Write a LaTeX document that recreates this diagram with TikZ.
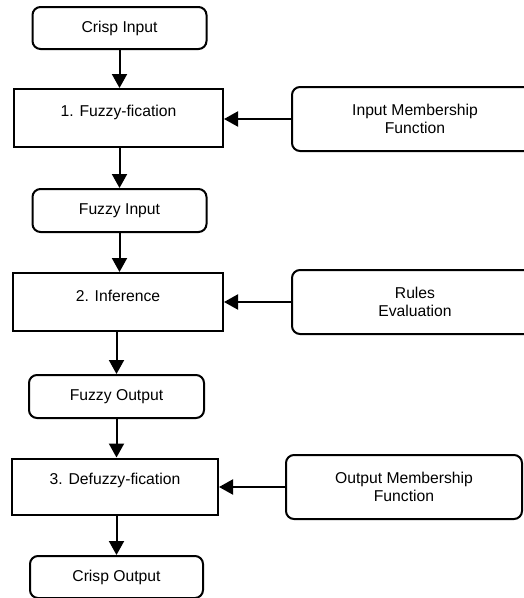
\documentclass[tikz,border=0pt]{standalone}
\usepackage{fontspec}
\setmainfont{Liberation Sans}
\usetikzlibrary{arrows.meta}
\begin{document}
\begin{tikzpicture}[x=1pt,y=-1pt,
  txt/.style={font=\fontsize{15.7}{18}\selectfont},
  base/.style={draw=black,line width=2pt,fill=white,inner sep=0pt,txt,align=center},
  rbox/.style={base,rounded corners=8pt},
  pbox/.style={base},
  arr/.style={line width=2pt,-{Triangle[length=14pt,width=15pt]}}]
\clip (0,0) rectangle (524,598);
\fill[white] (0,0) rectangle (524,598);
% left column
\node[rbox,minimum width=174pt,minimum height=42pt] (ci) at (119.5,28) {Crisp Input};
\node[pbox,minimum width=209pt,minimum height=58pt,label={[yshift=6pt,txt]center:1. Fuzzy-fication}] (f1) at (118.5,118) {};
\node[rbox,minimum width=174pt,minimum height=43pt] (fi) at (119.5,210.5) {Fuzzy Input};
\node[pbox,minimum width=210pt,minimum height=58pt,label={[yshift=6pt,txt]center:2. Inference}] (f2) at (118,302) {};
\node[rbox,minimum width=175pt,minimum height=43pt] (fo) at (116.5,396.5) {Fuzzy Output};
\node[pbox,minimum width=206pt,minimum height=56pt,label={[yshift=6pt,txt]center:3. Defuzzy-fication}] (f3) at (115,486.5) {};
\node[rbox,minimum width=173pt,minimum height=42pt] (co) at (116.5,577) {Crisp Output};
% right column
\node[rbox,minimum width=246pt,minimum height=64pt] (imf) at (415,119) {Input Membership\\Function};
\node[rbox,minimum width=246pt,minimum height=64pt] (rev) at (415,302) {Rules\\Evaluation};
\node[rbox,minimum width=236pt,minimum height=64pt] (omf) at (404,487) {Output Membership\\Function};
% connectors
\draw[arr] (ci.south) -- (ci.south |- f1.north);
\draw[arr] (f1.south -| fi.south) -- (fi.north);
\draw[arr] (fi.south) -- (fi.south |- f2.north);
\draw[arr] (f2.south -| fo.south) -- (fo.north);
\draw[arr] (fo.south) -- (fo.south |- f3.north);
\draw[arr] (f3.south -| co.north) -- (co.north);
\draw[arr] (imf.west) -- (imf.west -| f1.east);
\draw[arr] (rev.west) -- (rev.west -| f2.east);
\draw[arr] (omf.west) -- (omf.west -| f3.east);
\end{tikzpicture}
\end{document}
